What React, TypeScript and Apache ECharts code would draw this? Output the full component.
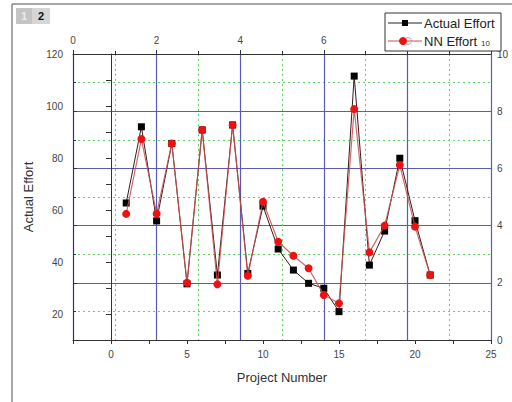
import React, { useEffect, useRef } from "react";
import * as echarts from "echarts";

const projects = [1, 2, 3, 4, 5, 6, 7, 8, 9, 10, 11, 12, 13, 14, 15, 16, 17, 18, 19, 20, 21];
const actualEffort = [62.7, 92, 55.8, 85.6, 31.6, 90.8, 35, 92.7, 35.6, 61.5, 45, 36.9, 31.8, 29.9, 20.9, 111.5, 38.8, 51.9, 79.9, 55.9, 35];
const nnEffort = [58.5, 87.3, 58.6, 85.6, 32, 90.8, 31.4, 92.7, 34.7, 63.2, 47.8, 42.4, 37.6, 27.3, 24.1, 98.8, 43.7, 54, 77.3, 53.6, 35];

const FONT = "'Liberation Sans', Arial, sans-serif";
const BLUE = "#5a5ab8";
const GREEN = "#5fd65f";

export default function App() {
  const ref = useRef<HTMLDivElement>(null);
  useEffect(() => {
    if (!ref.current) return;
    const chart = echarts.init(ref.current, undefined, { renderer: "svg" });
    const axisLine = { show: true, lineStyle: { color: "#333", width: 1 } };
    const tickLabel = { color: "#444", fontSize: 10, fontFamily: FONT };
    chart.setOption({
      animation: false,
      backgroundColor: "#ffffff",
      grid: { left: 73, right: 21, top: 54, bottom: 62, containLabel: false },
      xAxis: [
        {
          type: "value",
          position: "bottom",
          min: -2.5,
          max: 25,
          interval: 2.5,
          axisLine,
          axisTick: { show: true, inside: false, length: 4, lineStyle: { color: "#333" } },
          axisLabel: {
            ...tickLabel,
            margin: 9,
            formatter: (v: number) => (Math.abs(v % 5) < 1e-6 ? String(v) : ""),
          },
          splitLine: { show: false },
          minorSplitLine: { show: false },
          name: "Project Number",
          nameLocation: "middle",
          nameGap: 31,
          nameTextStyle: { color: "#333", fontSize: 13, fontFamily: FONT },
        },
        {
          type: "value",
          position: "top",
          min: 0,
          max: 10,
          interval: 2,
          axisLine,
          axisTick: { show: true, inside: false, length: 4, lineStyle: { color: "#333" } },
          minorTick: { show: true, splitNumber: 2, length: 3, lineStyle: { color: "#333" } },
          axisLabel: {
            ...tickLabel,
            margin: 9,
            formatter: (v: number) => (v <= 6 ? String(v) : ""),
          },
          splitLine: { show: true, lineStyle: { color: BLUE, width: 1.2 } },
          minorSplitLine: { show: true, lineStyle: { color: GREEN, width: 1, type: [2, 3] } },
        },
      ],
      yAxis: [
        {
          type: "value",
          position: "left",
          min: 10,
          max: 120,
          interval: 10,
          axisLine,
          axisTick: { show: true, inside: false, length: 5, lineStyle: { color: "#333" } },
          axisLabel: {
            ...tickLabel,
            margin: 10,
            formatter: (v: number) => (v % 20 === 0 ? String(v) : ""),
          },
          splitLine: { show: false },
          minorSplitLine: { show: false },
          name: "Actual Effort",
          nameLocation: "middle",
          nameGap: 31,
          nameTextStyle: { color: "#333", fontSize: 13, fontFamily: FONT },
        },
        {
          type: "value",
          position: "right",
          min: 0,
          max: 10,
          interval: 2,
          axisLine,
          axisTick: { show: true, inside: false, length: 4, lineStyle: { color: "#333" } },
          minorTick: { show: true, splitNumber: 2, length: 3, lineStyle: { color: "#333" } },
          axisLabel: { ...tickLabel, margin: 6 },
          splitLine: { show: true, lineStyle: { color: BLUE, width: 1.2 } },
          minorSplitLine: { show: true, lineStyle: { color: GREEN, width: 1, type: [2, 3] } },
        },
      ],
      series: [
        {
          name: "Actual Effort",
          type: "line",
          xAxisIndex: 0,
          yAxisIndex: 0,
          data: projects.map((p, i) => [p, actualEffort[i]]),
          symbol: "rect",
          symbolSize: 7,
          lineStyle: { color: "#3a1a1a", width: 1 },
          itemStyle: { color: "#000" },
          z: 3,
        },
        {
          name: "NN Effort",
          type: "line",
          xAxisIndex: 0,
          yAxisIndex: 0,
          data: projects.map((p, i) => [p, nnEffort[i]]),
          symbol: "circle",
          symbolSize: 8,
          lineStyle: { color: "#c85050", width: 1.2, opacity: 0.85 },
          itemStyle: { color: "#ee1111" },
          z: 4,
        },
      ],
      graphic: [
        { type: "line", shape: { x1: 12, y1: 4, x2: 512, y2: 4 }, style: { stroke: "#888", lineWidth: 1.5 }, z: 100 },
        { type: "line", shape: { x1: 12, y1: 4, x2: 12, y2: 402 }, style: { stroke: "#888", lineWidth: 1.5 }, z: 100 },
        { type: "rect", shape: { x: 16, y: 8, width: 16, height: 16 }, style: { fill: "#c4c4c4" }, z: 100 },
        { type: "text", x: 24, y: 16, style: { text: "1", fill: "#ececec", font: `bold 11px ${FONT}`, align: "center", verticalAlign: "middle" }, z: 101 },
        { type: "rect", shape: { x: 32, y: 8, width: 18, height: 16 }, style: { fill: "#d6d6d6" }, z: 100 },
        { type: "text", x: 41, y: 16, style: { text: "2", fill: "#111", font: `bold 11px ${FONT}`, align: "center", verticalAlign: "middle" }, z: 101 },
        { type: "rect", shape: { x: 385, y: 13, width: 116, height: 38 }, style: { fill: "#fff", stroke: "#333", lineWidth: 1 }, z: 100 },
        { type: "line", shape: { x1: 388, y1: 23, x2: 422, y2: 23 }, style: { stroke: "#222", lineWidth: 1 }, z: 101 },
        { type: "rect", shape: { x: 402, y: 20, width: 6, height: 6 }, style: { fill: "#000" }, z: 102 },
        { type: "text", x: 424, y: 23, style: { text: "Actual Effort", fill: "#222", font: `13px ${FONT}`, verticalAlign: "middle" }, z: 101 },
        { type: "line", shape: { x1: 388, y1: 41, x2: 422, y2: 41 }, style: { stroke: "#c85050", lineWidth: 1 }, z: 101 },
        { type: "circle", shape: { cx: 408, cy: 41, r: 3.5 }, style: { fill: "none", stroke: "#aaa", lineWidth: 1 }, z: 101 },
        { type: "circle", shape: { cx: 403, cy: 41, r: 4 }, style: { fill: "#ee1111" }, z: 102 },
        { type: "text", x: 424, y: 41, style: { text: "NN Effort", fill: "#222", font: `13px ${FONT}`, verticalAlign: "middle" }, z: 101 },
        { type: "text", x: 481, y: 43, style: { text: "10", fill: "#333", font: `8px ${FONT}`, verticalAlign: "middle" }, z: 101 },
      ],
    });
    return () => chart.dispose();
  }, []);
  return (
    <div
      ref={ref}
      style={{ position: "absolute", left: 0, top: 0, width: 512, height: 402, background: "#fff" }}
    />
  );
}
